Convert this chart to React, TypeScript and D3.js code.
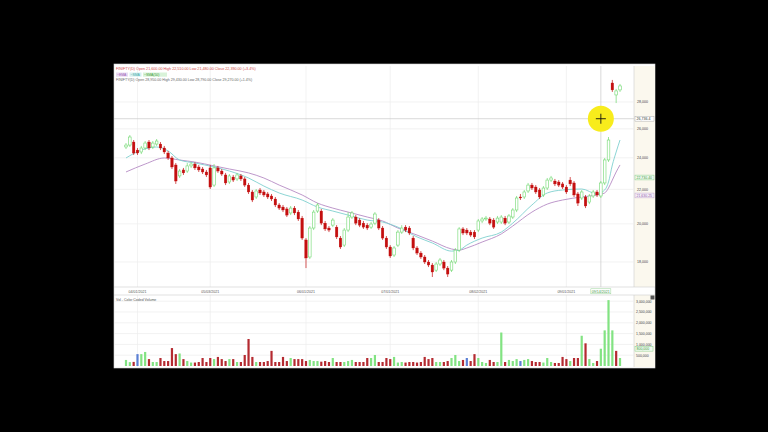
import React from 'react';
import * as d3 from 'd3';

// Daily OHLC bars
const opens = [24730,24860,25070,24520,24390,24660,25070,24730,24930,24930,24660,24320,23990,23530,22830,23210,23140,23470,23590,23400,23270,23080,23340,22260,23340,23140,22890,22450,22760,22640,22830,22640,22260,21840,21540,21960,21840,21720,21600,21420,21070,20950,20840,20610,20890,20660,20320,19130,18250,19770,20720,20720,20040,19770,19930,19820,19230,18860,19660,20380,20380,20210,20040,19930,19820,20040,20210,19770,19230,18760,18350,18860,19550,19820,19770,19230,18710,18450,18250,18000,17850,17600,17900,18000,17700,17600,18000,18600,19720,19660,19550,19550,19660,20160,20270,20270,20210,20100,20100,20320,20100,20380,20780,21540,21540,21900,22260,22140,21960,21660,22080,22570,22510,22450,22330,22140,22570,22390,21720,21480,21540,21240,21600,21840,21600,22390,23860,29510,28550,28950];
const highs = [25000,25560,25210,24660,24800,25140,25210,25140,25280,25070,24800,24460,24120,23660,23270,23340,23660,23720,23720,23530,23400,23210,23530,23590,23470,23270,23020,22950,22890,23020,22950,22760,22390,21960,22020,22080,21960,21840,21720,21540,21180,21070,20950,21010,21010,20780,20440,19230,19880,20780,21180,20840,20160,19880,20320,19930,19340,19770,20660,20720,20490,20320,20160,20040,20100,20660,20320,19880,19340,18860,18810,19660,19930,19930,19880,19340,18810,18550,18350,18100,17950,18000,18200,18100,17800,18100,18710,19820,19820,19770,19660,19660,20270,20380,20440,20380,20320,20440,20490,20440,20550,20890,21600,21720,21960,22390,22390,22260,22080,22200,22700,22830,22640,22570,22450,22260,22760,22510,21840,21960,21660,21720,21960,21960,22510,23990,25420,29760,29030,29430];
const lows = [24590,24730,24190,24190,24250,24520,24520,24590,24800,24520,24250,23860,23270,22330,22700,22890,23020,23340,23210,23080,22950,22760,22020,22140,23020,22830,22260,22330,22450,22510,22510,22140,21720,21240,21420,21660,21540,21420,21300,20950,20780,20660,20380,20490,20490,20160,19130,17700,18150,19660,20610,19930,19610,19550,19820,19180,18660,18760,19550,20270,19930,19820,19720,19660,19720,19930,19660,19130,18660,18200,18250,18760,19450,19550,19390,18600,18350,18150,17900,17750,17270,17510,17800,17600,17270,17510,17900,18500,19390,19390,19290,19180,19550,20040,20160,19930,19720,19990,19990,19930,19990,20270,20660,21360,21420,21780,21960,21720,21420,21540,21960,22450,22200,22140,22020,21720,22200,21540,21010,21360,20890,21120,21480,21540,21480,22260,23730,28790,27920,28790];
const closes = [24860,25420,24320,24320,24660,25000,24660,25000,25140,24660,24390,23990,23400,22510,23140,23020,23470,23590,23340,23210,23080,22890,22140,23340,23140,22950,22390,22830,22570,22890,22640,22260,21840,21360,21900,21780,21660,21540,21420,21070,20890,20780,20490,20890,20610,20270,19230,18200,19770,20660,21070,20040,19720,19660,20210,19290,18760,19660,20380,20610,20040,19930,19820,19770,19990,20550,19770,19230,18760,18300,18710,19550,19770,19660,19500,18710,18450,18250,18000,17850,17510,17900,18100,17700,17410,18000,18600,19720,19500,19500,19390,19290,20160,20270,20320,20040,19820,20320,20380,20040,20440,20780,21480,21480,21840,22260,22080,21840,21540,22080,22570,22700,22330,22260,22140,21840,22330,21660,21180,21840,21010,21600,21840,21660,22390,23860,25210,28950,28870,29270];
const volumes = [280000,180000,190000,550000,550000,650000,320000,185000,185000,370000,230000,230000,830000,550000,580000,320000,230000,160000,160000,185000,370000,185000,370000,320000,420000,320000,230000,320000,320000,185000,185000,510000,1250000,420000,185000,185000,185000,230000,700000,185000,185000,420000,230000,370000,320000,320000,320000,230000,280000,230000,230000,200000,230000,185000,370000,185000,185000,185000,230000,280000,185000,185000,185000,370000,370000,510000,185000,185000,370000,320000,420000,160000,185000,160000,185000,185000,160000,185000,420000,320000,370000,185000,185000,185000,230000,370000,510000,230000,280000,370000,230000,550000,370000,185000,140000,280000,185000,185000,1550000,185000,280000,230000,320000,230000,280000,320000,230000,185000,185000,160000,370000,185000,140000,140000,420000,320000,230000,370000,370000,1400000,1050000,320000,140000,230000,800000,1650000,3050000,1650000,700000,370000];

// Moving averages, sampled at bar indices
const fastMaIdx = [0,4,8,11,14,18,23,27,32,36,40,46,50,54,58,63,67,71,76,80,85,87,89,93,98,101,106,110,114,119,123,125,126,127,128,129];
const fastMaVal = [23990,24520,24730,24460,23855,23660,23400,23140,22700,22200,21780,21360,20950,20720,20490,20210,20100,19820,19290,18970,18550,18600,18860,19230,19550,20040,21070,21780,21960,22020,21720,21960,22450,23530,24390,25210];
const slowMaIdx = [0,5,10,14,18,23,27,32,36,40,46,50,54,58,63,67,71,76,80,85,87,89,93,98,101,106,110,114,119,123,125,126,127,128,129];
const slowMaVal = [23080,23590,23990,23855,23720,23470,23270,23020,22700,22260,21660,21180,20890,20660,20380,20160,19770,19390,19070,18660,18600,18710,19020,19450,19880,20660,21120,21360,21540,21660,21780,22080,22570,23080,23530];

const priceTicks = [28000, 26000, 24000, 22000, 20000, 18000];
const volumeTicks = [3000000, 2500000, 2000000, 1500000, 1000000, 500000];
const dateTickIdx = [3, 22, 47, 69, 92, 115];
const dateTickLabels = ['04/01/2021', '05/03/2021', '06/01/2021', '07/01/2021', '08/02/2021', '09/01/2021'];
const cursorIdx = 124;
const cursorPrice = 26736.4;
const cursorDate = '09/14/2021';
const fastMaMarker = 22730.4;
const slowMaMarker = 21630.25;

const FONT = 'Liberation Sans, Arial, sans-serif';

export default function App() {
  const panelL = 114, panelR = 655, panelT = 64, panelB = 368;
  const plotR = 634;
  const priceTop = 66, priceBottom = 287;
  const volTop = 295, volBottom = 367;

  const n = closes.length;
  const x = d3.scaleLinear().domain([0, n - 1]).range([126, 620]);
  const y = d3.scaleLog().domain([28000, 18000]).range([102, 262]);
  const yv = d3.scaleLinear().domain([0, 3000000]).range([366, 301.2]);
  const fmt = d3.format(',');

  const maLine = d3
    .line<[number, number]>()
    .x((d) => x(d[0]))
    .y((d) => y(d[1]))
    .curve(d3.curveMonotoneX);
  const fastPts = fastMaIdx.map((i, k) => [i, fastMaVal[k]] as [number, number]);
  const slowPts = slowMaIdx.map((i, k) => [i, slowMaVal[k]] as [number, number]);

  const bw = 2.6;
  const upColor = '#6fd86f';
  const downColor = '#c40f0f';

  const volColor = (i: number) => {
    const prev = i === 0 ? opens[0] : closes[i - 1];
    if (closes[i] > prev) return '#82e382';
    if (closes[i] < prev) return '#b42a30';
    return '#5a7fd4';
  };

  const cx = x(cursorIdx);
  const cy = y(cursorPrice);

  return (
    <div style={{ position: 'absolute', left: 0, top: 0 }}>
      <svg width={768} height={432} style={{ display: 'block' }} fontFamily={FONT}>
        <defs>
          <clipPath id="priceClip">
            <rect x={panelL} y={priceTop} width={plotR - panelL} height={priceBottom - priceTop} />
          </clipPath>
        </defs>
        <rect x={0} y={0} width={768} height={432} fill="#000" />
        <rect x={panelL} y={panelT} width={panelR - panelL} height={panelB - panelT} fill="#fff" stroke="#d8d8d8" strokeWidth={0.6} />

        {/* right axis columns */}
        <rect x={plotR} y={priceTop} width={panelR - plotR} height={priceBottom - priceTop} fill="#fbf8ee" />
        <rect x={plotR} y={volTop} width={panelR - plotR} height={volBottom - volTop} fill="#fbf8ee" />
        <line x1={plotR} x2={plotR} y1={priceTop} y2={priceBottom} stroke="#cfcfcf" strokeWidth={0.6} />
        <line x1={plotR} x2={plotR} y1={volTop} y2={volBottom} stroke="#cfcfcf" strokeWidth={0.6} />

        {/* grid: price panel */}
        {priceTicks.map((t) => (
          <line key={'pg' + t} x1={panelL} x2={plotR} y1={y(t)} y2={y(t)} stroke="#ececec" strokeWidth={0.7} />
        ))}
        {dateTickIdx.map((i) => (
          <g key={'vg' + i}>
            <line x1={x(i)} x2={x(i)} y1={priceTop} y2={priceBottom} stroke="#ececec" strokeWidth={0.7} />
            <line x1={x(i)} x2={x(i)} y1={volTop} y2={volBottom} stroke="#ececec" strokeWidth={0.7} />
          </g>
        ))}
        {/* grid: volume panel */}
        {volumeTicks.map((t) => (
          <line key={'vgl' + t} x1={panelL} x2={plotR} y1={yv(t)} y2={yv(t)} stroke="#ececec" strokeWidth={0.7} />
        ))}

        {/* header */}
        <text x={116} y={70} fontSize={3.7} fill="#d24a4a">
          FINIFTY(D) Open 21,600.00 High 22,510.00 Low 21,480.00 Close 22,390.00 (+3.4%)
        </text>
        <rect x={116} y={72.5} width={12} height={4.2} fill="#e9dbf2" />
        <text x={117} y={75.7} fontSize={3.4} fill="#9a5fb5">~EMA</text>
        <rect x={129.5} y={72.5} width={12} height={4.2} fill="#d8f1f1" />
        <text x={130.5} y={75.7} fontSize={3.4} fill="#3aa6a6">~SMA</text>
        <rect x={143} y={72.5} width={24} height={4.2} fill="#d9f3d9" />
        <text x={144} y={75.7} fontSize={3.4} fill="#3c9a3c">~SMA(50)</text>
        <text x={116} y={81} fontSize={3.6} fill="#666">
          FINIFTY(D) Open 28,950.00 High 29,430.00 Low 28,790.00 Close 29,270.00 (+1.4%)
        </text>

        {/* crosshair */}
        <line x1={panelL} x2={plotR} y1={cy} y2={cy} stroke="#c8c8c8" strokeWidth={0.7} />
        <line x1={cx} x2={cx} y1={priceTop} y2={priceBottom} stroke="#c8c8c8" strokeWidth={0.7} />

        <g clipPath="url(#priceClip)">
          {/* moving averages */}
          <path d={maLine(slowPts) || ''} fill="none" stroke="#b58bc4" strokeWidth={0.9} />
          <path d={maLine(fastPts) || ''} fill="none" stroke="#7fd0cf" strokeWidth={0.9} />

          {/* candles */}
          {closes.map((c, i) => {
            const o = opens[i];
            const up = c >= o;
            const top = y(Math.max(o, c));
            const bot = y(Math.min(o, c));
            const h = Math.max(bot - top, 0.8);
            const col = up ? upColor : downColor;
            return (
              <g key={'c' + i}>
                <line x1={x(i)} x2={x(i)} y1={y(highs[i])} y2={y(lows[i])} stroke={col} strokeWidth={0.7} />
                {up ? (
                  <rect x={x(i) - bw / 2} y={top} width={bw} height={h} fill="#fff" stroke={col} strokeWidth={0.6} />
                ) : (
                  <rect x={x(i) - bw / 2} y={top} width={bw} height={h} fill={col} stroke={col} strokeWidth={0.3} />
                )}
              </g>
            );
          })}
        </g>

        {/* price axis labels */}
        {priceTicks.map((t) => (
          <text key={'pl' + t} x={637} y={y(t) + 1.3} fontSize={3.6} fill="#444">
            {fmt(t)}
          </text>
        ))}
        <rect x={635} y={cy - 2.4} width={19} height={4.8} fill="#fff" stroke="#9a9a9a" strokeWidth={0.4} />
        <text x={636.5} y={cy + 1.3} fontSize={3.6} fill="#333">{fmt(cursorPrice)}</text>
        <rect x={635} y={y(fastMaMarker) - 2.4} width={19} height={4.8} fill="#f1fbf1" stroke="#79c979" strokeWidth={0.45} />
        <text x={636.5} y={y(fastMaMarker) + 1.3} fontSize={3.5} fill="#3b963b">{d3.format(',.2f')(fastMaMarker)}</text>
        <rect x={635} y={y(slowMaMarker) - 2.4} width={19} height={4.8} fill="#f7f0fa" stroke="#b99ac8" strokeWidth={0.45} />
        <text x={636.5} y={y(slowMaMarker) + 1.3} fontSize={3.5} fill="#8c5fa5">{d3.format(',.2f')(slowMaMarker)}</text>

        {/* date axis */}
        <line x1={panelL} x2={panelR} y1={priceBottom} y2={priceBottom} stroke="#cfcfcf" strokeWidth={0.6} />
        <line x1={panelL} x2={panelR} y1={volTop} y2={volTop} stroke="#cfcfcf" strokeWidth={0.6} />
        {dateTickIdx.map((i, k) => (
          <text key={'dl' + i} x={x(i)} y={292.5} fontSize={3.6} fill="#555" textAnchor="middle">
            {dateTickLabels[k]}
          </text>
        ))}
        <rect x={cx - 10} y={288.8} width={20} height={5} fill="#fff" stroke="#8ccf8c" strokeWidth={0.45} />
        <text x={cx} y={292.5} fontSize={3.6} fill="#3b963b" textAnchor="middle">{cursorDate}</text>

        {/* volume panel */}
        <text x={116} y={300.5} fontSize={3.5} fill="#555">Vol - Color Coded Volume</text>
        {volumes.map((v, i) => (
          <rect key={'v' + i} x={x(i) - 1.1} y={yv(v)} width={2.2} height={yv(0) - yv(v)} fill={volColor(i)} />
        ))}
        {volumeTicks.map((t) => (
          <text key={'vl' + t} x={636} y={yv(t) + 1.3} fontSize={3.5} fill="#444">
            {fmt(t)}
          </text>
        ))}
        <rect x={635} y={yv(volumes[cursorIdx]) - 2.4} width={18} height={4.8} fill="#f1fbf1" stroke="#79c979" strokeWidth={0.45} />
        <text x={636.5} y={yv(volumes[cursorIdx]) + 1.3} fontSize={3.5} fill="#3b963b">{fmt(volumes[cursorIdx])}</text>
        <rect x={650.5} y={295.5} width={4} height={4} fill="#555" />

        {/* highlighted cursor */}
        <circle cx={cx} cy={cy} r={13} fill="#f8ec1c" />
        <line x1={cx - 5} x2={cx + 5} y1={cy} y2={cy} stroke="#111" strokeWidth={0.9} />
        <line x1={cx} x2={cx} y1={cy - 5} y2={cy + 5} stroke="#111" strokeWidth={0.9} />
      </svg>
    </div>
  );
}
